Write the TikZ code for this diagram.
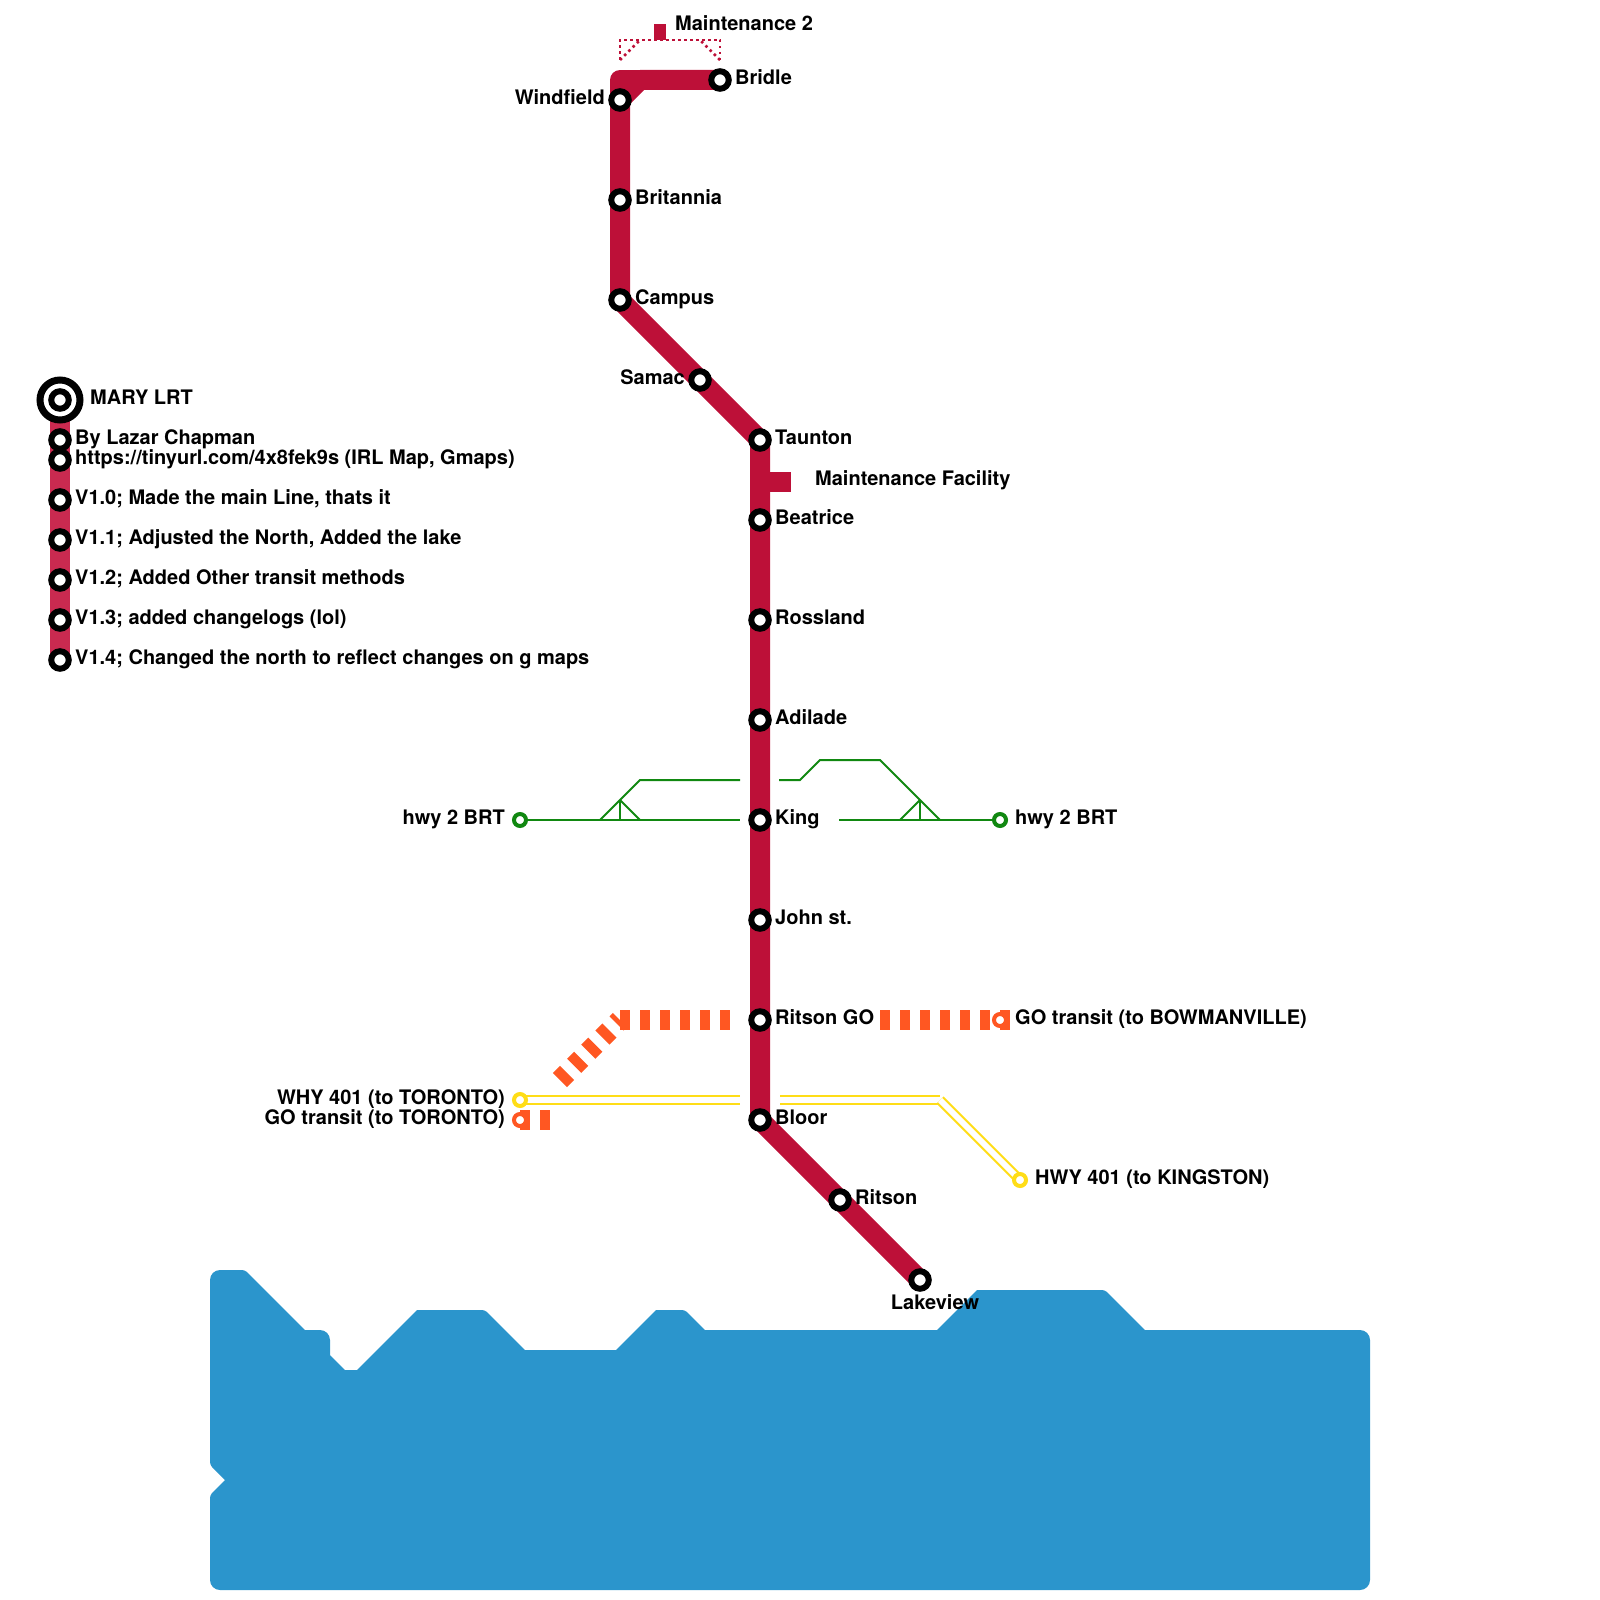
\documentclass[tikz,border=0pt]{standalone}
\usepackage{fontspec}
\setmainfont{TeX Gyre Heros}
\usepackage{xcolor}
\usetikzlibrary{backgrounds}
\definecolor{maryred}{HTML}{BD1038}
\definecolor{legendred}{HTML}{C92A50}
\definecolor{brtgreen}{HTML}{118811}
\definecolor{goorange}{HTML}{FF5722}
\definecolor{hwyyellow}{HTML}{FFDD17}
\definecolor{lakeblue}{HTML}{2B95CC}
\tikzset{
 station/.style={circle,draw=black,fill=white,line width=6pt,minimum size=17.5pt,inner sep=0pt},
 terminus/.style={circle,draw=black,fill=white,line width=7pt,minimum size=40pt,inner sep=0pt},
 minorstop/.style={circle,draw=#1,fill=white,line width=4pt,minimum size=12pt,inner sep=0pt},
 stationtext/.style={font=\bfseries\fontsize{20}{24}\selectfont,inner sep=0pt},
 mainline/.style={draw=maryred,line width=20pt,line join=round},
 yardline/.style={maryred,line width=2.5pt,dash pattern=on 2.5pt off 3.5pt},
 brtline/.style={draw=brtgreen,line width=2pt},
 goline/.style={draw=goorange,line width=20pt,dash pattern=on 10pt off 10pt},
 hwyline/.style={draw=hwyyellow,double=white,line width=2pt,double distance=6pt},
}
\begin{document}
\begin{tikzpicture}[x=1pt,y=-1pt]
\useasboundingbox (0,0) rectangle (1600,1600);
\foreach \n/\x/\y/\t in {bridle/720/80/Bridle,britannia/620/200/Britannia,campus/620/300/Campus,taunton/760/440/Taunton,beatrice/760/520/Beatrice,rossland/760/620/Rossland,adilade/760/720/Adilade,king/760/820/King,john/760/920/{John st.},ritsongo/760/1020/{Ritson GO},bloor/760/1120/Bloor,ritson/840/1200/Ritson,
 credit/60/440/{By Lazar Chapman},maplink/60/460/{https://tinyurl.com/4x8fek9s (IRL Map, Gmaps)},vzero/60/500/{V1.0; Made the main Line, thats it},vone/60/540/{V1.1; Adjusted the North, Added the lake},vtwo/60/580/{V1.2; Added Other transit methods},vthree/60/620/{V1.3; added changelogs (lol)},vfour/60/660/{V1.4; Changed the north to reflect changes on g maps}}{
 \node[station] (\n) at (\x,\y){};
 \node[stationtext,anchor=base west] (\n text) at (\x+15,\y+4.5){\t};}
\node[station] (windfield) at (620,100){};
\node[stationtext,anchor=base east] (windfield text) at (605,104.5){Windfield};
\node[station] (samac) at (700,380){};
\node[stationtext,anchor=base east] (samac text) at (685,384.5){Samac};
\node[station] (lakeview) at (920,1280){};
\node[stationtext,anchor=base] (lakeview text) at (935,1309){Lakeview};
\node[terminus] (mary) at (60,400){};
\node[station] (mary inner) at (60,400){};
\node[stationtext,anchor=base west] (mary text) at (90,404.5){MARY LRT};
\coordinate (bridle corner) at (620,80);
\coordinate (bridle cut) at (640,80);
\coordinate (yard stub) at (760,482);
\coordinate (yard end) at (791,482);
\node[stationtext,anchor=base west] (yard text) at (815,485){Maintenance Facility};
\node[fill=maryred,minimum width=12pt,minimum height=16pt,inner sep=0pt] (north yard) at (660,32){};
\node[stationtext,anchor=base west] (north yard text) at (675,30.5){Maintenance 2};
\node[minorstop=brtgreen] (brt west) at (520,820){};
\node[stationtext,anchor=base east] (brt west text) at (505,824.5){hwy 2 BRT};
\node[minorstop=brtgreen] (brt east) at (1000,820){};
\node[stationtext,anchor=base west] (brt east text) at (1015,824.5){hwy 2 BRT};
\coordinate (brt gap west) at (740,820);
\coordinate (brt gap east) at (839,820);
\coordinate (brt upper west) at (740,780);
\coordinate (brt upper east) at (779,780);
\node[minorstop=goorange] (go east) at (1000,1020){};
\node[stationtext,anchor=base west] (go east text) at (1015,1024.5){GO transit (to BOWMANVILLE)};
\node[minorstop=goorange] (go west) at (520,1120){};
\node[stationtext,anchor=base east] (go west text) at (505,1124.5){GO transit (to TORONTO)};
\node[minorstop=hwyyellow] (hwy west) at (520,1100){};
\node[stationtext,anchor=base east] (hwy west text) at (505,1104.5){WHY 401 (to TORONTO)};
\node[minorstop=hwyyellow] (hwy east) at (1020,1180){};
\node[stationtext,anchor=base west] (hwy east text) at (1035,1184.5){HWY 401 (to KINGSTON)};
\coordinate (hwy gap west) at (740,1100);
\coordinate (hwy gap east) at (780,1100);
\coordinate (hwy bend) at (940,1100);
\coordinate (go bend) at (620,1020);
\coordinate (go gap west) at (730,1020);
\coordinate (go tail) at (560,1080);
\coordinate (go gap east) at (880,1020);
\coordinate (go east end) at (1010,1020);
\coordinate (go west end) at (550,1120);
\begin{scope}[on background layer]
\fill[lakeblue] (210,1400) [rounded corners=10pt] -- (210,1270) [rounded corners=3pt] -- (245,1270) [sharp corners] -- (305,1330) [rounded corners=10pt] -- (330,1330) [sharp corners] -- (330,1355) -- (345,1370) -- (357,1370) -- (417,1310) [rounded corners=3pt] -- (485,1310) [sharp corners] -- (525,1350) -- (616,1350) -- (656,1310) [rounded corners=3pt] -- (685,1310) [sharp corners] -- (705,1330) -- (937,1330) -- (977,1290) [rounded corners=3pt] -- (1105,1290) [sharp corners] -- (1145,1330) [rounded corners=10pt] -- (1370,1330) -- (1370,1590) -- (210,1590) [rounded corners=3pt] -- (210,1495) [sharp corners] -- (225,1480) [rounded corners=3pt] -- (210,1465) -- cycle;
\draw[draw=legendred,line width=20pt] (mary.center) -- (vfour.center);
\draw[mainline] (yard stub) -- (yard end);
\draw[mainline] (bridle.center) -- (bridle corner) -- (windfield.center);
\draw[mainline] (bridle.center) -- (bridle cut) -- (windfield.center) -- (campus.center) -- (taunton.center) -- (bloor.center) -- (lakeview.center);
\draw[yardline] (bridle corner |- 0,60) -- (620,40) -- (720,40) -- (bridle |- 0,60);
\draw[yardline] (bridle corner |- 0,60) -- (640,40);
\draw[yardline] (bridle |- 0,60) -- (700,40);
\draw[brtline] (brt west.center) -- (brt gap west);
\draw[brtline] (600,820) -- (640,780) -- (brt upper west);
\draw[brtline] (620,800) -- (640,820);
\draw[brtline] (620,800) -- (620,820);
\draw[brtline] (brt east.center) -- (brt gap east);
\draw[brtline] (brt upper east) -- (800,780) -- (820,760) -- (880,760) -- (940,820);
\draw[brtline] (920,800) -- (900,820);
\draw[brtline] (920,800) -- (920,820);
\draw[goline] (go bend) -- (go gap west);
\draw[goline] (go tail) -- (go bend);
\draw[goline] (go gap east) -- (go east end);
\draw[goline] (go west.center) -- (go west end);
\draw[hwyline] (hwy west.center) -- (hwy gap west);
\draw[hwyline] (hwy gap east) -- (hwy bend);
\draw[hwyline] (hwy bend) -- (hwy east.center);
\end{scope}
\end{tikzpicture}
\end{document}
